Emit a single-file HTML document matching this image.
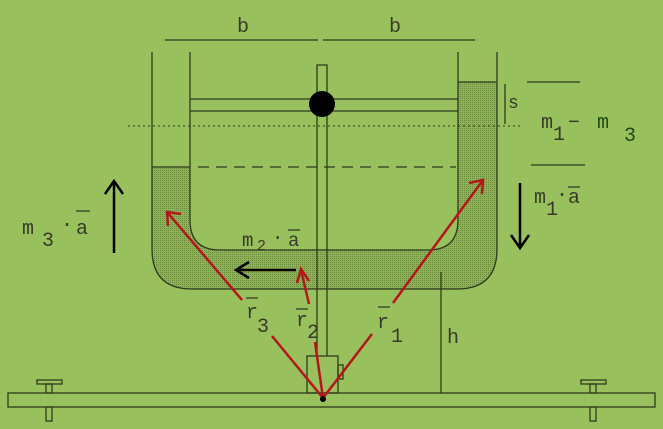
<!DOCTYPE html>
<html><head><meta charset="utf-8"><style>
html,body{margin:0;padding:0;background:#98c05c;}
svg{display:block;}
text{font-family:"Liberation Mono","DejaVu Sans Mono",monospace;fill:#3a3a2a;}
</style></head><body>
<svg width="663" height="429" viewBox="0 0 663 429" xmlns="http://www.w3.org/2000/svg">
<defs>
<pattern id="dots" width="2" height="2" patternUnits="userSpaceOnUse">
<rect width="2" height="2" fill="#8db354"/>
<rect width="1" height="1" fill="#6a8a3d"/>
</pattern>
</defs>
<rect width="663" height="429" fill="#98c05c"/>
<path d="M152,167 L190,167 L190,220 Q190,250 220,250 L428,250 Q458,250 458,220 L458,82 L497,82 L497,249 Q497,289 457,289 L192,289 Q152,289 152,249 Z" fill="url(#dots)"/>
<g stroke="#2f3a1f" stroke-width="1.3" fill="none">
<path d="M152,52 L152,249 Q152,289 192,289 L457,289 Q497,289 497,249 L497,52"/>
<path d="M190,52 L190,220 Q190,250 220,250 L428,250 Q458,250 458,220 L458,52"/>
<line x1="152" y1="167" x2="190" y2="167"/>
<line x1="458" y1="82" x2="497" y2="82"/>
<line x1="190" y1="99" x2="458" y2="99"/>
<line x1="190" y1="111" x2="458" y2="111"/>
<path d="M317,356 L317,65 L327,65 L327,356"/>
<rect x="307" y="356" width="31" height="37"/>
<rect x="338" y="365" width="5" height="14"/>
<rect x="8" y="393" width="647" height="14"/>
<rect x="37" y="380" width="25" height="4"/>
<rect x="46" y="384" width="6" height="9"/>
<rect x="46" y="407" width="6" height="14"/>
<rect x="581" y="380" width="25" height="4"/>
<rect x="590" y="384" width="6" height="9"/>
<rect x="590" y="407" width="6" height="14"/>
<line x1="441" y1="272" x2="441" y2="393"/>
<line x1="505" y1="84" x2="505" y2="124"/>
<line x1="165" y1="40" x2="318" y2="40"/>
<line x1="323" y1="40" x2="475" y2="40"/>
<line x1="527" y1="82" x2="580" y2="82"/>
<line x1="531" y1="165" x2="585" y2="165"/>
</g>
<line x1="128" y1="126" x2="522" y2="126" stroke="#2f3a1f" stroke-width="1" stroke-dasharray="2,3"/>
<line x1="198" y1="167" x2="456" y2="167" stroke="#2f3a1f" stroke-width="1.3" stroke-dasharray="11,7"/>
<circle cx="322" cy="104" r="13" fill="#000"/>
<g stroke="#000" stroke-width="2.5" fill="none">
<line x1="114" y1="253" x2="114" y2="182"/><path d="M105,194 L114,181 L123,194"/>
<line x1="520" y1="183" x2="520" y2="247"/><path d="M511,235 L520,248 L529,235"/>
<line x1="296" y1="270" x2="237" y2="270"/><path d="M249,262 L236,270 L249,278"/>
</g>
<g stroke="#b5161a" stroke-width="2.5" fill="none">
<line x1="323" y1="398" x2="272" y2="336"/><line x1="242" y1="300" x2="167" y2="212"/>
<path d="M168,226 L167,212 L181,214"/>
<line x1="323" y1="398" x2="315" y2="342"/><line x1="309" y1="304" x2="301" y2="270"/>
<path d="M297,283 L301,269 L309,281"/>
<line x1="323" y1="398" x2="372" y2="334"/><line x1="393" y1="303" x2="483" y2="180"/>
<path d="M469,183 L483,180 L482,194"/>
</g>
<circle cx="323" cy="399" r="3" fill="#000"/>
<text x="237" y="32" font-size="20">b</text>
<text x="389" y="32" font-size="20">b</text>
<text x="508" y="108" font-size="18">s</text>
<text x="541" y="128" font-size="20">m</text><text x="553" y="140" font-size="20">1</text>
<text x="568" y="128" font-size="20">−</text>
<text x="597" y="128" font-size="20" style="fill:#1f4a1a">m</text><text x="624" y="141" font-size="20" style="fill:#1f4a1a">3</text>
<text x="534" y="203" font-size="20">m</text><text x="546" y="215" font-size="20">1</text>
<text x="556" y="200" font-size="20">·</text><text x="568" y="203" font-size="20">a</text>
<line x1="568" y1="187" x2="580" y2="187" stroke="#3a3a2a" stroke-width="1.3"/>
<text x="22" y="234" font-size="20">m</text><text x="42" y="246" font-size="20">3</text>
<text x="61" y="230" font-size="20">·</text><text x="76" y="234" font-size="20">a</text>
<line x1="76" y1="211" x2="90" y2="211" stroke="#3a3a2a" stroke-width="1.3"/>
<text x="242" y="246" font-size="19">m</text><text x="257" y="250" font-size="15">2</text>
<text x="272" y="243" font-size="19">·</text><text x="288" y="246" font-size="19">a</text>
<line x1="288" y1="230" x2="300" y2="230" stroke="#3a3a2a" stroke-width="1.3"/>
<text x="246" y="318" font-size="20">r</text><text x="257" y="332" font-size="20">3</text>
<line x1="246" y1="298" x2="258" y2="298" stroke="#3a3a2a" stroke-width="1.3"/>
<text x="296" y="326" font-size="20">r</text><text x="307" y="338" font-size="20">2</text>
<line x1="296" y1="309" x2="308" y2="309" stroke="#3a3a2a" stroke-width="1.3"/>
<text x="377" y="328" font-size="20">r</text><text x="391" y="342" font-size="20">1</text>
<line x1="378" y1="307" x2="390" y2="307" stroke="#3a3a2a" stroke-width="1.3"/>
<text x="447" y="343" font-size="20">h</text>
</svg>
</body></html>
